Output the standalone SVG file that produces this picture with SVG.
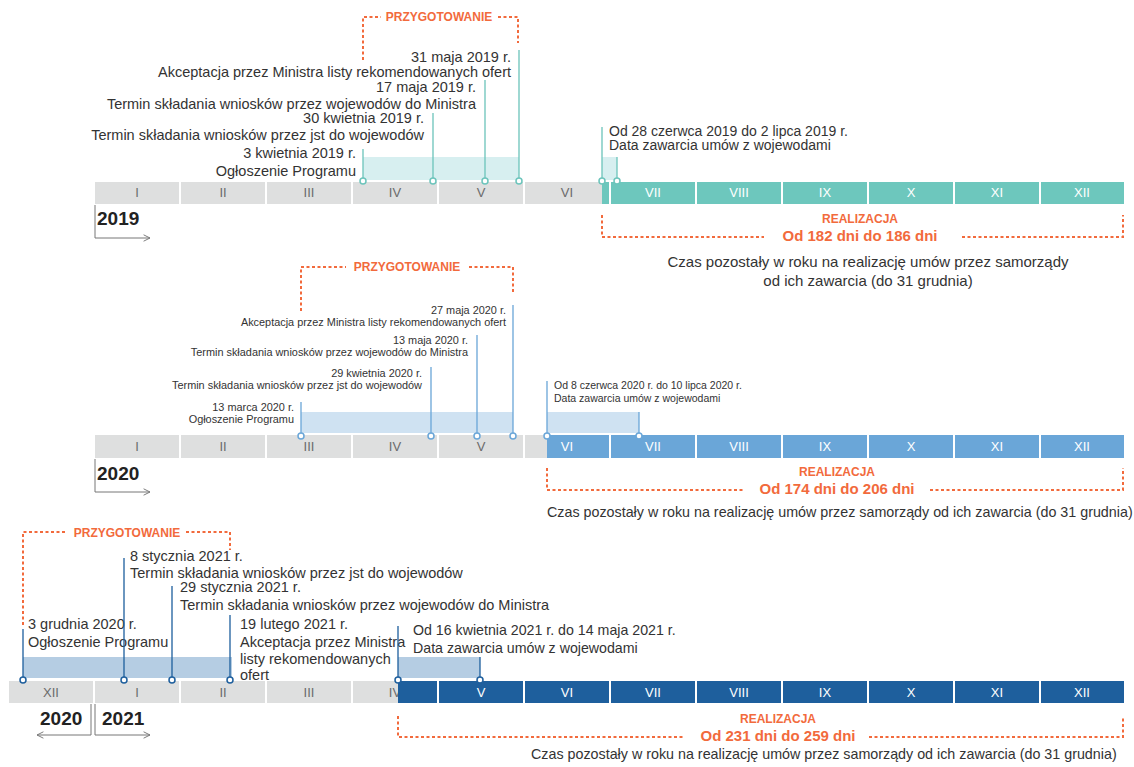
<svg xmlns="http://www.w3.org/2000/svg" width="1134" height="767" viewBox="0 0 1134 767">
<defs>
<style>
text{font-family:"Liberation Sans",Arial,sans-serif;fill:#333}
.gray{fill:#dedfdf}
.teal{fill:#6dc7bd}
.blue{fill:#6aa6d8}
.dblue{fill:#1e5f9d}
.ml{font-size:13px;text-anchor:middle;fill:#6b6b6b}
.mw{font-size:13px;text-anchor:middle;fill:#fff}
.t14{font-size:14.5px}
.t11{font-size:10.9px}
.end{text-anchor:end}
.mid{text-anchor:middle}
.or{fill:#f26a3c;font-weight:bold;text-anchor:middle}
.brk{fill:none;stroke:#f26a3c;stroke-width:2;stroke-dasharray:3 2.5}
.lt{stroke:#6cc4bb;stroke-width:1.3;fill:none}
.lb{stroke:#6aa6d8;stroke-width:1.3;fill:none}
.ld{stroke:#1e5f9d;stroke-width:1.3;fill:none}
.ct{fill:#fff;stroke:#6cc4bb;stroke-width:1.5}
.cb{fill:#fff;stroke:#6aa6d8;stroke-width:1.5}
.cd{fill:#fff;stroke:#1e5f9d;stroke-width:1.5}
.yr{font-size:19px;font-weight:bold;fill:#222}
.ax{fill:none;stroke:#777;stroke-width:1}
</style>
<marker id="ah" viewBox="0 0 10 10" refX="9" refY="5" markerWidth="8" markerHeight="8" orient="auto-start-reverse" markerUnits="userSpaceOnUse">
<path d="M1,1 L9,5 L1,9" fill="none" stroke="#777" stroke-width="1.2"/>
</marker>
</defs>
<rect width="1134" height="767" fill="#fff"/>

<!-- ============ 2019 ============ -->
<g id="bar2019">
<rect class="gray" x="95" y="182" width="84" height="22"/>
<rect class="gray" x="181" y="182" width="84" height="22"/>
<rect class="gray" x="267" y="182" width="84" height="22"/>
<rect class="gray" x="353" y="182" width="84" height="22"/>
<rect class="gray" x="439" y="182" width="84" height="22"/>
<rect class="gray" x="525" y="182" width="84" height="22"/>
<rect class="teal" x="602" y="182" width="7" height="22"/>
<rect class="teal" x="611" y="182" width="84" height="22"/>
<rect class="teal" x="697" y="182" width="84" height="22"/>
<rect class="teal" x="783" y="182" width="84" height="22"/>
<rect class="teal" x="869" y="182" width="84" height="22"/>
<rect class="teal" x="955" y="182" width="84" height="22"/>
<rect class="teal" x="1041" y="182" width="83" height="22"/>
<text class="ml" x="137" y="197">I</text>
<text class="ml" x="223" y="197">II</text>
<text class="ml" x="309" y="197">III</text>
<text class="ml" x="395" y="197">IV</text>
<text class="ml" x="481" y="197">V</text>
<text class="ml" x="567" y="197">VI</text>
<text class="mw" x="653" y="197">VII</text>
<text class="mw" x="739" y="197">VIII</text>
<text class="mw" x="825" y="197">IX</text>
<text class="mw" x="911" y="197">X</text>
<text class="mw" x="997" y="197">XI</text>
<text class="mw" x="1082" y="197">XII</text>
</g>
<g id="band2019">
<rect x="363" y="157" width="156" height="23" fill="#d7eff0"/>
<rect x="602" y="157" width="15" height="23" fill="#d7eff0"/>
</g>
<g id="year2019">
<text class="yr" x="97" y="225">2019</text>
<path class="ax" d="M95,205 V238 H150" marker-end="url(#ah)"/>
</g>
<g id="prep2019">
<path class="brk" d="M363,60 V17 H381"/>
<path class="brk" d="M498,17 H518 V43"/>
<text class="or" x="439" y="21" font-size="12">PRZYGOTOWANIE</text>
</g>
<g id="ev2019">
<text class="t14 end" x="511" y="62">31 maja 2019 r.</text>
<text class="t14 end" x="511" y="77">Akceptacja przez Ministra listy rekomendowanych ofert</text>
<text class="t14 end" x="476" y="92">17 maja 2019 r.</text>
<text class="t14 end" x="476" y="109">Termin składania wniosków przez wojewodów do Ministra</text>
<text class="t14 end" x="424" y="123">30 kwietnia 2019 r.</text>
<text class="t14 end" x="424" y="140">Termin składania wniosków przez jst do wojewodów</text>
<text class="t14 end" x="356" y="158">3 kwietnia 2019 r.</text>
<text class="t14 end" x="356" y="176">Ogłoszenie Programu</text>
<text x="609" y="136" font-size="14">Od 28 czerwca 2019 do 2 lipca 2019 r.</text>
<text x="609" y="150" font-size="14">Data zawarcia umów z wojewodami</text>
</g>
<g id="real2019">
<path class="brk" d="M602,215 V237 H764"/>
<path class="brk" d="M962,237 H1123 V215"/>
<text class="or" x="860" y="223" font-size="12">REALIZACJA</text>
<text class="or" x="860" y="241" font-size="15">Od 182 dni do 186 dni</text>
<text class="mid" x="868" y="267" font-size="15">Czas pozostały w roku na realizację umów przez samorządy</text>
<text class="mid" x="868" y="286" font-size="15">od ich zawarcia (do 31 grudnia)</text>
</g>

<!-- ============ 2020 ============ -->
<g id="bar2020">
<rect class="gray" x="95" y="435" width="84" height="23"/>
<rect class="gray" x="181" y="435" width="84" height="23"/>
<rect class="gray" x="267" y="435" width="84" height="23"/>
<rect class="gray" x="353" y="435" width="84" height="23"/>
<rect class="gray" x="439" y="435" width="84" height="23"/>
<rect class="gray" x="525" y="435" width="84" height="23"/>
<rect class="blue" x="547" y="435" width="62" height="23"/>
<rect class="blue" x="611" y="435" width="84" height="23"/>
<rect class="blue" x="697" y="435" width="84" height="23"/>
<rect class="blue" x="783" y="435" width="84" height="23"/>
<rect class="blue" x="869" y="435" width="84" height="23"/>
<rect class="blue" x="955" y="435" width="84" height="23"/>
<rect class="blue" x="1041" y="435" width="83" height="23"/>
<text class="ml" x="137" y="451">I</text>
<text class="ml" x="223" y="451">II</text>
<text class="ml" x="309" y="451">III</text>
<text class="ml" x="395" y="451">IV</text>
<text class="ml" x="481" y="451">V</text>
<text class="mw" x="567" y="451">VI</text>
<text class="mw" x="653" y="451">VII</text>
<text class="mw" x="739" y="451">VIII</text>
<text class="mw" x="825" y="451">IX</text>
<text class="mw" x="911" y="451">X</text>
<text class="mw" x="997" y="451">XI</text>
<text class="mw" x="1082" y="451">XII</text>
</g>
<g id="band2020">
<rect x="301" y="412" width="212" height="21" fill="#cfe2f2"/>
<rect x="547" y="412" width="92" height="21" fill="#cfe2f2"/>
</g>
<g id="year2020">
<text class="yr" x="97" y="480">2020</text>
<path class="ax" d="M95,459 V492 H150" marker-end="url(#ah)"/>
</g>
<g id="prep2020">
<path class="brk" d="M301,311 V267 H346"/>
<path class="brk" d="M469,267 H513 V294"/>
<text class="or" x="407" y="271" font-size="12">PRZYGOTOWANIE</text>
</g>
<g id="ev2020">
<text class="t11 end" x="506" y="314">27 maja 2020 r.</text>
<text class="t11 end" x="506" y="326">Akceptacja przez Ministra listy rekomendowanych ofert</text>
<text class="t11 end" x="468" y="344">13 maja 2020 r.</text>
<text class="t11 end" x="468" y="356">Termin składania wniosków przez wojewodów do Ministra</text>
<text class="t11 end" x="422" y="377">29 kwietnia 2020 r.</text>
<text class="t11 end" x="422" y="389">Termin składania wniosków przez jst do wojewodów</text>
<text class="t11 end" x="294" y="411">13 marca 2020 r.</text>
<text class="t11 end" x="294" y="423">Ogłoszenie Programu</text>
<text x="554" y="389" font-size="10.5">Od 8 czerwca 2020 r. do 10 lipca 2020 r.</text>
<text x="554" y="402" font-size="10.5">Data zawarcia umów z wojewodami</text>
</g>
<g id="real2020">
<path class="brk" d="M547,468 V490 H744"/>
<path class="brk" d="M930,490 H1123 V468"/>
<text class="or" x="837" y="476" font-size="12">REALIZACJA</text>
<text class="or" x="837" y="494" font-size="15">Od 174 dni do 206 dni</text>
<text x="547" y="517" font-size="14.3">Czas pozostały w roku na realizację umów przez samorządy od ich zawarcia (do 31 grudnia)</text>
</g>

<!-- ============ 2021 ============ -->
<g id="bar2021">
<rect class="gray" x="9" y="681" width="84" height="22"/>
<rect class="gray" x="95" y="681" width="84" height="22"/>
<rect class="gray" x="181" y="681" width="84" height="22"/>
<rect class="gray" x="267" y="681" width="84" height="22"/>
<rect class="gray" x="353" y="681" width="84" height="22"/>
<text class="ml" x="51" y="697">XII</text>
<text class="ml" x="137" y="697">I</text>
<text class="ml" x="223" y="697">II</text>
<text class="ml" x="309" y="697">III</text>
<text class="ml" x="395" y="697">IV</text>
<rect class="dblue" x="398" y="681" width="39" height="22"/>
<rect class="dblue" x="439" y="681" width="84" height="22"/>
<rect class="dblue" x="525" y="681" width="84" height="22"/>
<rect class="dblue" x="611" y="681" width="84" height="22"/>
<rect class="dblue" x="697" y="681" width="84" height="22"/>
<rect class="dblue" x="783" y="681" width="84" height="22"/>
<rect class="dblue" x="869" y="681" width="84" height="22"/>
<rect class="dblue" x="955" y="681" width="84" height="22"/>
<rect class="dblue" x="1041" y="681" width="83" height="22"/>
<text class="mw" x="481" y="697">V</text>
<text class="mw" x="567" y="697">VI</text>
<text class="mw" x="653" y="697">VII</text>
<text class="mw" x="739" y="697">VIII</text>
<text class="mw" x="825" y="697">IX</text>
<text class="mw" x="911" y="697">X</text>
<text class="mw" x="997" y="697">XI</text>
<text class="mw" x="1082" y="697">XII</text>
</g>
<g id="band2021">
<rect x="23" y="657" width="209" height="21" fill="#b5cde3"/>
<rect x="398" y="657" width="82" height="21" fill="#b5cde3"/>
</g>
<g id="year2021">
<text class="yr" x="40" y="725">2020</text>
<text class="yr" x="102" y="725">2021</text>
<path class="ax" d="M91,704 V735 H37" marker-end="url(#ah)"/>
<path class="ax" d="M95,704 V735 H150" marker-end="url(#ah)"/>
</g>
<g id="prep2021">
<path class="brk" d="M23,625 V532 H66"/>
<path class="brk" d="M186,532 H230 V550"/>
<text class="or" x="127" y="537" font-size="12">PRZYGOTOWANIE</text>
</g>
<g id="ev2021">
<text class="t14" x="130" y="561">8 stycznia 2021 r.</text>
<text class="t14" x="130" y="578">Termin składania wniosków przez jst do wojewodów</text>
<text class="t14" x="180" y="592">29 stycznia 2021 r.</text>
<text class="t14" x="180" y="610">Termin składania wniosków przez wojewodów do Ministra</text>
<text class="t14" x="28" y="629">3 grudnia 2020 r.</text>
<text class="t14" x="28" y="647">Ogłoszenie Programu</text>
<text class="t14" x="240" y="629">19 lutego 2021 r.</text>
<text class="t14" x="240" y="647">Akceptacja przez Ministra</text>
<text class="t14" x="240" y="664">listy rekomendowanych</text>
<text class="t14" x="240" y="680">ofert</text>
<text x="413" y="635" font-size="14.2">Od 16 kwietnia 2021 r. do 14 maja 2021 r.</text>
<text x="413" y="653" font-size="14.2">Data zawarcia umów z wojewodami</text>
</g>
<g id="real2021">
<path class="brk" d="M398,716 V737 H684"/>
<path class="brk" d="M869,737 H1123 V716"/>
<text class="or" x="778" y="723" font-size="12">REALIZACJA</text>
<text class="or" x="778" y="741" font-size="15">Od 231 dni do 259 dni</text>
<text x="531" y="759" font-size="14.3">Czas pozostały w roku na realizację umów przez samorządy od ich zawarcia (do 31 grudnia)</text>
</g>

<!-- ============ connectors ============ -->
<g id="connectors">
<path class="lt" d="M363,149 V181 M433,113 V181 M485,80 V181 M519,50 V181 M602,127 V181 M617,157 V181"/>
<circle class="ct" cx="363" cy="181" r="3"/>
<circle class="ct" cx="433" cy="181" r="3"/>
<circle class="ct" cx="485" cy="181" r="3"/>
<circle class="ct" cx="519" cy="181" r="3"/>
<circle class="ct" cx="602" cy="181" r="3"/>
<circle class="ct" cx="617" cy="181" r="3"/>
<path class="lb" d="M301,402 V435 M431,367 V435 M477,335 V435 M513,305 V435 M547,381 V435 M639,412 V435"/>
<circle class="cb" cx="301" cy="436" r="3"/>
<circle class="cb" cx="431" cy="436" r="3"/>
<circle class="cb" cx="477" cy="436" r="3"/>
<circle class="cb" cx="513" cy="436" r="3"/>
<circle class="cb" cx="547" cy="436" r="3"/>
<circle class="cb" cx="639" cy="436" r="3"/>
<path class="ld" d="M23,629 V680 M124,558 V680 M172,586 V680 M230,615 V680 M398,626 V680 M480,657 V680"/>
<circle class="cd" cx="23" cy="680" r="3"/>
<circle class="cd" cx="124" cy="680" r="3"/>
<circle class="cd" cx="172" cy="680" r="3"/>
<circle class="cd" cx="230" cy="680" r="3"/>
<circle class="cd" cx="398" cy="680" r="3"/>
<circle class="cd" cx="480" cy="680" r="3"/>
</g>
</svg>
